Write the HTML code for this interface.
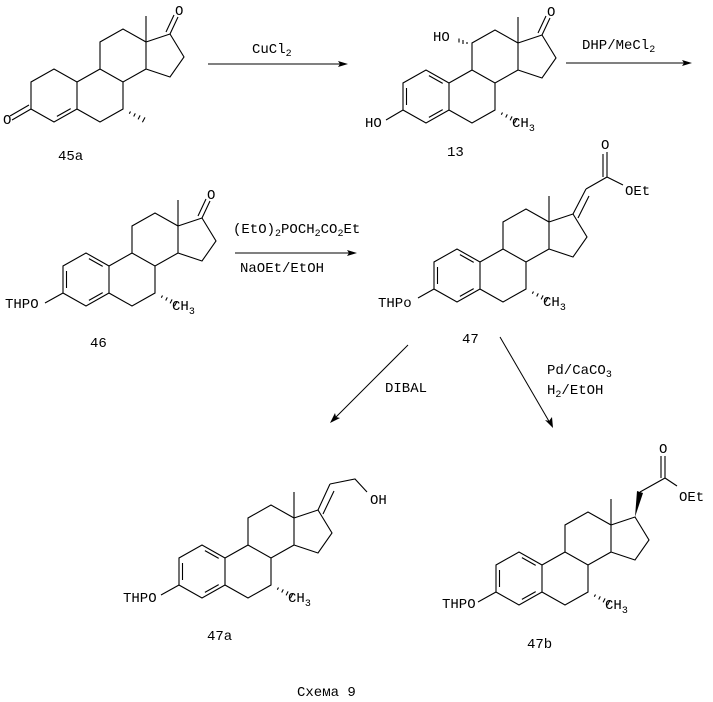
<!DOCTYPE html>
<html><head><meta charset="utf-8"><style>
html,body{margin:0;padding:0;background:#fff;}
svg{display:block;}
text{font-family:"Liberation Mono","DejaVu Sans Mono",monospace;font-size:14px;fill:#000;}
.s{font-size:10px;}
</style></head><body>
<svg width="713" height="702" viewBox="0 0 713 702" xmlns="http://www.w3.org/2000/svg">
<defs>
<g id="bcd" fill="none" stroke="#000" stroke-width="1.1">
<path d="M-23,13 L0,0 L0,-27 L23,-40 L46,-27 L46,0 L23,13 L0,0 M23,13 L23,40 L0,53 L-23,40 L-23,13 M46,-27 L46,-53 M46,-27 L70,-35 L84,-12 L70,8 L46,0"/>
<path d="M29.3,44.7 L30.5,42.5 M33.7,47.5 L35.3,44.4 M38.1,50.4 L40.1,46.4 M42.4,53.2 L45,48.4"/>
</g>
<g id="arom" fill="none" stroke="#000" stroke-width="1.1">
<path d="M-23,13 L-46,0 L-69,13 L-69,40 L-46,53 L-23,40"/>
<path d="M-43.1,5.6 L-29.3,13.4 M-65.5,18 L-65.5,35 M-43.1,47.4 L-29.3,39.6"/>
</g>
</defs>

<!-- 45a -->
<g transform="translate(100,69)">
<use href="#bcd"/>
<g fill="none" stroke="#000" stroke-width="1.1">
<path d="M-23,13 L-46,0 L-69,13 L-69,40 L-46,53 L-23,40"/>
<path d="M-43.1,47.4 L-29.3,39.6"/>
<path d="M-69,40 L-88,51 M-71,36 L-90,47"/>
<path d="M70,-35 L78,-52 M66,-37 L74,-54"/>
</g>
<text x="75" y="-54">O</text>
<text x="-97" y="55">O</text>
</g>
<text x="58" y="160">45a</text>

<!-- arrow 1 -->
<line x1="208" y1="64" x2="342" y2="64" stroke="#000" stroke-width="1"/>
<path d="M348,64 L338,61 L340,64 L338,67 Z" fill="#000"/>
<text x="252" y="53">CuCl<tspan class="s" dy="3">2</tspan></text>

<!-- 13 -->
<g transform="translate(472,70)">
<use href="#bcd"/>
<use href="#arom"/>
<g fill="none" stroke="#000" stroke-width="1.1">
<path d="M70,-35 L78,-52 M66,-37 L74,-54"/>
<path d="M-69,40 L-86,50"/>
<path d="M-5,-28 L-5,-26 M-9,-30 L-9,-26 M-13,-31.5 L-13,-27.5"/>
</g>
<text x="75" y="-54">O</text>
<text x="-107" y="57">HO</text>
<text x="-39" y="-29">HO</text>
<text x="40" y="57">CH<tspan class="s" dy="4">3</tspan></text>
</g>
<text x="447" y="156">13</text>

<!-- arrow 2 -->
<line x1="566" y1="63" x2="686" y2="63" stroke="#000" stroke-width="1"/>
<path d="M692,63 L682,60 L684,63 L682,66 Z" fill="#000"/>
<text x="582" y="49">DHP/MeCl<tspan class="s" dy="3">2</tspan></text>

<!-- 46 -->
<g transform="translate(132,253)">
<use href="#bcd"/>
<use href="#arom"/>
<g fill="none" stroke="#000" stroke-width="1.1">
<path d="M70,-35 L78,-52 M66,-37 L74,-54"/>
<path d="M-69,40 L-87,50"/>
</g>
<text x="75" y="-54">O</text>
<text x="40" y="57">CH<tspan class="s" dy="4">3</tspan></text>
</g>
<text x="5" y="308">THPO</text>
<text x="90" y="347">46</text>

<!-- arrow 3 -->
<line x1="235" y1="253" x2="351" y2="253" stroke="#000" stroke-width="1"/>
<path d="M357,253 L347,250 L349,253 L347,256 Z" fill="#000"/>
<text x="233" y="233">(EtO)<tspan class="s" dy="3">2</tspan><tspan dy="-3">POCH</tspan><tspan class="s" dy="3">2</tspan><tspan dy="-3">CO</tspan><tspan class="s" dy="3">2</tspan><tspan dy="-3">Et</tspan></text>
<text x="240" y="272">NaOEt/EtOH</text>

<!-- 47 -->
<g transform="translate(503,249)">
<use href="#bcd"/>
<use href="#arom"/>
<g fill="none" stroke="#000" stroke-width="1.1">
<path d="M-69,40 L-85,49"/>
<path d="M70,-35 L83,-60 M75,-31 L86,-53"/>
<path d="M83,-60 L104,-72 L104,-97 M100,-72 L100,-95 M104,-72 L120,-64"/>
</g>
<text x="98" y="-100">O</text>
<text x="122" y="-54">OEt</text>
<text x="40" y="57">CH<tspan class="s" dy="4">3</tspan></text>
</g>
<text x="378" y="307">THPo</text>
<text x="462" y="343">47</text>

<!-- DIBAL arrow -->
<line x1="408" y1="345" x2="334" y2="419" stroke="#000" stroke-width="1"/>
<path d="M330,423 L335,413 L336,417 L340,418 Z" fill="#000"/>
<text x="385" y="392">DIBAL</text>

<!-- Pd arrow -->
<line x1="500" y1="337" x2="550" y2="423" stroke="#000" stroke-width="1"/>
<path d="M553,428 L545,420 L549,421 L552,417 Z" fill="#000"/>
<text x="547" y="374">Pd/CaCO<tspan class="s" dy="3">3</tspan></text>
<text x="547" y="394">H<tspan class="s" dy="3">2</tspan><tspan dy="-3">/EtOH</tspan></text>

<!-- 47a -->
<g transform="translate(248,545)">
<use href="#bcd"/>
<use href="#arom"/>
<g fill="none" stroke="#000" stroke-width="1.1">
<path d="M-69,40 L-87,50"/>
<path d="M70,-35 L82,-61 M75,-31 L86,-54"/>
<path d="M82,-61 L107,-66 L119,-53"/>
</g>
<text x="122" y="-41">OH</text>
<text x="40" y="57">CH<tspan class="s" dy="4">3</tspan></text>
</g>
<text x="123" y="602">THPO</text>
<text x="207" y="640">47a</text>

<!-- 47b -->
<g transform="translate(565,552)">
<use href="#bcd"/>
<use href="#arom"/>
<g fill="none" stroke="#000" stroke-width="1.1">
<path d="M-69,40 L-87,50"/>
<path d="M75,-60 L100,-74 L100,-96 M96,-74 L96,-96 M100,-74 L112,-66"/>
</g>
<path d="M70,-35 L72,-61 L78,-59 Z" fill="#000"/>
<text x="94" y="-99">O</text>
<text x="114" y="-51">OEt</text>
<text x="40" y="57">CH<tspan class="s" dy="4">3</tspan></text>
</g>
<text x="442" y="608">THPO</text>
<text x="527" y="648">47b</text>

<text x="297" y="696">Схема 9</text>
</svg>
</body></html>
